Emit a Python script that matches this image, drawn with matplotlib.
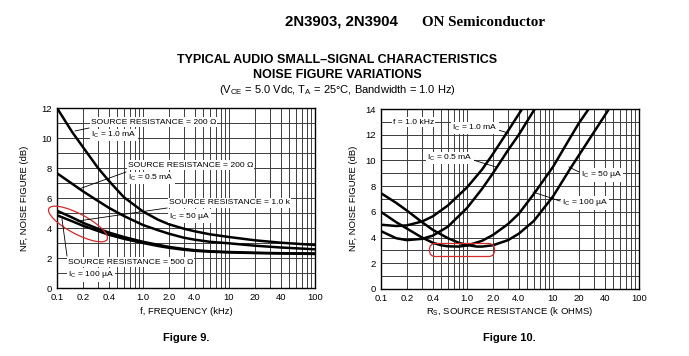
import matplotlib
matplotlib.use('Agg')
import matplotlib.pyplot as plt
from matplotlib.patches import Ellipse, FancyBboxPatch
from matplotlib.lines import Line2D

# ---------------- data ----------------
# Figure 9: NF vs frequency (kHz)
freq = [0.1, 0.15, 0.2, 0.3, 0.4, 0.6, 1.0, 1.5, 2.0, 3.0, 4.0, 6.0, 10, 20, 40, 100]
nf_200_1mA = [12.0, 10.4, 9.4, 8.0, 7.15, 6.05, 5.1, 4.55, 4.25, 3.95, 3.78, 3.58, 3.4, 3.18, 3.02, 2.87]
nf_200_05mA = [7.65, 6.95, 6.45, 5.8, 5.35, 4.8, 4.2, 3.85, 3.62, 3.35, 3.22, 3.08, 2.98, 2.82, 2.7, 2.58]
nf_1k_50uA = [5.15, 4.7, 4.35, 3.95, 3.7, 3.4, 3.08, 2.88, 2.74, 2.6, 2.52, 2.45, 2.4, 2.35, 2.32, 2.3]
nf_500_100uA = [4.85, 4.45, 4.15, 3.8, 3.55, 3.28, 3.0, 2.8, 2.68, 2.55, 2.48, 2.42, 2.37, 2.33, 2.3, 2.27]

# Figure 10: NF vs source resistance (k ohms)
rs_1mA = [0.1, 0.15, 0.2, 0.3, 0.4, 0.6, 1.0, 1.5, 2.0, 3.0, 4.0, 5.0]
nf_1mA = [5.0, 4.9, 4.95, 5.25, 5.65, 6.5, 7.9, 9.3, 10.5, 12.3, 13.6, 14.6]
rs_05mA = [0.1, 0.15, 0.2, 0.3, 0.4, 0.6, 1.0, 1.5, 2.0, 3.0, 4.0, 6.0, 8.0]
nf_05mA = [4.5, 3.95, 3.8, 3.9, 4.15, 4.85, 6.3, 7.8, 9.0, 10.8, 12.0, 13.9, 15.0]
rs_100uA = [0.1, 0.15, 0.2, 0.3, 0.4, 0.5, 0.6, 0.8, 1.0, 1.5, 2.0, 3.0, 4.0, 6.0, 10, 15, 20, 30]
nf_100uA = [6.0, 5.2, 4.7, 4.0, 3.6, 3.4, 3.32, 3.3, 3.38, 3.75, 4.2, 5.05, 5.85, 7.4, 9.5, 11.5, 12.9, 14.6]
rs_50uA = [0.1, 0.15, 0.2, 0.3, 0.4, 0.6, 0.8, 1.0, 1.3, 1.5, 2.0, 3.0, 4.0, 6.0, 10, 16, 20, 40, 60]
nf_50uA = [7.45, 6.7, 6.1, 5.2, 4.6, 3.95, 3.6, 3.42, 3.3, 3.3, 3.4, 3.8, 4.3, 5.3, 7.2, 9.4, 10.4, 13.5, 15.3]

x_tick_vals = [0.1, 0.2, 0.4, 1.0, 2.0, 4.0, 10, 20, 40, 100]
x_tick_labels = ['0.1', '0.2', '0.4', '1.0', '2.0', '4.0', '10', '20', '40', '100']

# ---------------- style ----------------
SANS = ['Liberation Sans', 'DejaVu Sans']
plt.rcParams['font.family'] = SANS

W, H = 689, 356
fig = plt.figure(figsize=(6.89, 3.56), dpi=100)
fig.patch.set_facecolor('white')

def fx(x):
    return x / W

def fy(y):
    return 1 - y / H

ax1 = fig.add_axes([fx(57), fy(288), (315 - 57) / W, (288 - 108) / H])
ax2 = fig.add_axes([fx(381), fy(289), (639 - 381) / W, (289 - 109) / H])

grid_x = [m * 10.0 ** e for e in (-1, 0, 1) for m in range(1, 10)] + [100]
GRID_C = '#3c3c3c'
LINE_KW = dict(color='black', lw=1.8, solid_joinstyle='round')

for ax, ymax in ((ax1, 12), (ax2, 14)):
    ax.set_xscale('log')
    ax.set_xlim(0.1, 100)
    ax.set_ylim(0, ymax)
    ax.set_xticks(x_tick_vals)
    ax.set_xticklabels(x_tick_labels)
    ax.set_xticks(grid_x, minor=True)
    ax.set_yticks(range(0, ymax + 1, 2))
    ax.set_yticks(range(1, ymax, 2), minor=True)
    ax.tick_params(which='both', length=0, labelsize=6.8, pad=3.5)
    ax.xaxis.set_minor_formatter(plt.NullFormatter())
    ax.grid(True, which='both', color=GRID_C, lw=0.7)
    ax.set_axisbelow(True)
    for s in ax.spines.values():
        s.set_linewidth(1.0)
        s.set_color('black')

ax1.plot(freq, nf_200_1mA, **LINE_KW)
ax1.plot(freq, nf_200_05mA, **LINE_KW)
ax1.plot(freq, nf_1k_50uA, **LINE_KW)
ax1.plot(freq, nf_500_100uA, **LINE_KW)

ax2.plot(rs_1mA, nf_1mA, **LINE_KW)
ax2.plot(rs_05mA, nf_05mA, **LINE_KW)
ax2.plot(rs_100uA, nf_100uA, **LINE_KW)
ax2.plot(rs_50uA, nf_50uA, **LINE_KW)

# ---------------- texts ----------------
fig.text(fx(341), fy(22), '2N3903, 2N3904', ha='center', va='center',
         fontsize=10.8, fontweight='bold')
fig.text(fx(422), fy(22), 'ON Semiconductor', ha='left', va='center',
         fontsize=10.8, fontweight='bold', family=['Liberation Serif', 'DejaVu Serif'])
fig.text(fx(337), fy(60), 'TYPICAL AUDIO SMALL\u2013SIGNAL CHARACTERISTICS', ha='center',
         va='center', fontsize=9, fontweight='bold')
fig.text(fx(337), fy(75), 'NOISE FIGURE VARIATIONS', ha='center', va='center',
         fontsize=9, fontweight='bold')
fig.text(fx(337), fy(90),
         '(V$_\\mathregular{CE}$ = 5.0 Vdc, T$_\\mathregular{A}$ = 25\u00b0C, Bandwidth = 1.0 Hz)',
         ha='center', va='center', fontsize=8)

for xc in (25, 353):
    fig.text(fx(xc), fy(198), 'NF, NOISE FIGURE (dB)', rotation=90, ha='center',
             va='center', fontsize=6.8)
fig.text(fx(186), fy(312), 'f, FREQUENCY (kHz)', ha='center', va='center', fontsize=6.8)
fig.text(fx(510), fy(312), 'R$_\\mathregular{S}$, SOURCE RESISTANCE (k OHMS)', ha='center',
         va='center', fontsize=6.8)
fig.text(fx(186), fy(338), 'Figure 9.', ha='center', va='center', fontsize=8,
         fontweight='bold')
fig.text(fx(509), fy(338), 'Figure 10.', ha='center', va='center', fontsize=8,
         fontweight='bold')

BOX = dict(facecolor='white', edgecolor='none', pad=0.8)

def label(x, y, s):
    fig.text(fx(x), fy(y), s, ha='left', va='center', fontsize=6.1, bbox=BOX)

def leader(x0, y0, x1, y1):
    fig.add_artist(Line2D([fx(x0), fx(x1)], [fy(y0), fy(y1)], color='black', lw=0.6,
                          transform=fig.transFigure))

IC = 'I$_\\mathregular{C}$'
# Figure 9 labels
label(91, 122, 'SOURCE RESISTANCE = 200 \u03a9')
label(91, 135, IC + ' = 1.0 mA')
leader(89, 128, 75, 131)
label(128, 165, 'SOURCE RESISTANCE = 200 \u03a9')
label(128, 178, IC + ' = 0.5 mA')
leader(126, 172, 79, 189)
label(169, 203, 'SOURCE RESISTANCE = 1.0 k')
label(169, 216, IC + ' = 50 \u00b5A')
leader(167, 208, 78, 221)
label(68, 262, 'SOURCE RESISTANCE = 500 \u03a9')
label(68, 275, IC + ' = 100 \u00b5A')
leader(67, 256, 62, 219)

# Figure 10 labels
label(393, 122, 'f = 1.0 kHz')
label(452, 128, IC + ' = 1.0 mA')
leader(495, 129, 508, 133)
label(427, 158, IC + ' = 0.5 mA')
leader(470, 159, 496, 167)
label(581, 175, IC + ' = 50 \u00b5A')
leader(579, 172, 569, 167)
label(562, 203, IC + ' = 100 \u00b5A')
leader(560, 201, 533, 192)

# ---------------- red hand-drawn marks ----------------
RED = '#d42a2a'
ell = Ellipse((0.78, (H - 224) / 100), 0.66, 0.2, angle=-28, fill=False, edgecolor=RED,
              lw=0.9, transform=fig.dpi_scale_trans)
fig.add_artist(ell)
rect = FancyBboxPatch((4.30, (H - 256) / 100), 0.64, 0.12,
                      boxstyle='round,pad=0.005,rounding_size=0.06', fill=False,
                      edgecolor=RED, lw=0.9, transform=fig.dpi_scale_trans)
fig.add_artist(rect)

fig.savefig('out.png', dpi=100, facecolor='white')
